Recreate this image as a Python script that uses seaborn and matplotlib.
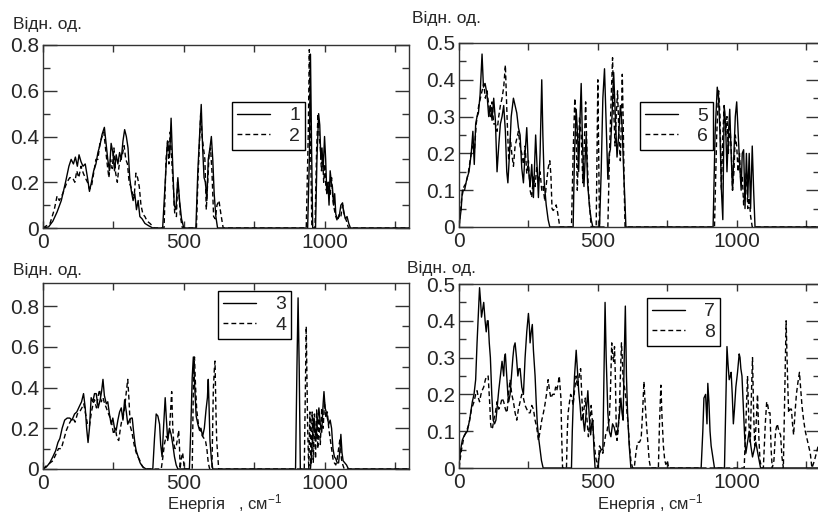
import pandas as pd
import seaborn as sns
import matplotlib.pyplot as plt
from matplotlib.lines import Line2D

# (energy, density) pairs, one list per curve
curve1 = [(0, 0), (20, 0.005), (35, 0.03), (50, 0.07), (65, 0.12), (80, 0.2), (92, 0.27), (100, 0.3), (108, 0.28),
          (115, 0.31), (122, 0.27), (128, 0.32), (135, 0.29), (142, 0.27), (150, 0.28), (158, 0.22), (165, 0.16),
          (172, 0.2), (180, 0.25), (188, 0.28), (195, 0.33), (202, 0.36), (210, 0.41), (218, 0.44), (224, 0.37),
          (230, 0.3), (236, 0.25), (242, 0.37), (248, 0.33), (254, 0.25), (260, 0.32), (266, 0.28), (272, 0.33),
          (278, 0.3), (284, 0.38), (290, 0.43), (296, 0.4), (302, 0.35), (308, 0.22), (314, 0.16), (320, 0.12),
          (326, 0.15), (332, 0.08), (338, 0.12), (344, 0.05), (352, 0.04), (362, 0.02), (375, 0.01), (390, 0),
          (425, 0), (435, 0.22), (442, 0.38), (450, 0.32), (455, 0.48), (460, 0.3), (466, 0.1), (472, 0.08),
          (479, 0.22), (485, 0.12), (492, 0.04), (500, 0),
          (543, 0), (550, 0.25), (556, 0.4), (562, 0.54), (567, 0.35), (572, 0.22), (577, 0.2), (582, 0.12),
          (587, 0.3), (593, 0.35), (598, 0.4), (603, 0.3), (608, 0.15), (614, 0.05), (620, 0),
          (940, 0), (946, 0.3), (950, 0.76), (954, 0.35), (958, 0), (968, 0), (973, 0.3), (979, 0.5), (983, 0.45),
          (987, 0.3), (991, 0.35), (995, 0.25), (1000, 0.4), (1004, 0.3), (1008, 0.15), (1012, 0.2), (1016, 0.1),
          (1020, 0.25), (1024, 0.2), (1028, 0.18), (1032, 0.1), (1036, 0.15), (1040, 0.06), (1046, 0.04),
          (1052, 0.05), (1058, 0.1), (1064, 0.11), (1068, 0.07), (1074, 0.04), (1080, 0.05), (1086, 0.02),
          (1092, 0), (1300, 0)]

curve2 = [(0, 0), (25, 0.02), (40, 0.08), (50, 0.14), (58, 0.12), (70, 0.15), (85, 0.2), (95, 0.22), (105, 0.22),
          (113, 0.2), (120, 0.25), (127, 0.22), (135, 0.27), (143, 0.24), (150, 0.22), (158, 0.2), (165, 0.17),
          (172, 0.18), (180, 0.24), (188, 0.3), (195, 0.3), (202, 0.37), (210, 0.4), (216, 0.42), (222, 0.35),
          (228, 0.28), (234, 0.22), (240, 0.3), (246, 0.26), (252, 0.35), (258, 0.24), (264, 0.2), (270, 0.27),
          (276, 0.3), (282, 0.32), (288, 0.36), (294, 0.3), (300, 0.28), (306, 0.2), (312, 0.18), (318, 0.15),
          (324, 0.14), (330, 0.24), (336, 0.22), (342, 0.18), (348, 0.1), (355, 0.06), (362, 0.05), (370, 0.03),
          (380, 0.02), (395, 0),
          (430, 0), (437, 0.3), (443, 0.38), (447, 0.28), (452, 0.42), (457, 0.3), (462, 0.2), (468, 0.06),
          (474, 0.05), (478, 0.2), (483, 0.15), (488, 0.05), (495, 0),
          (545, 0), (550, 0.2), (555, 0.35), (560, 0.5), (565, 0.4), (570, 0.35), (575, 0.3), (580, 0.08),
          (585, 0.2), (590, 0.32), (595, 0.35), (600, 0.25), (606, 0.05), (612, 0.04), (618, 0.1), (625, 0.12),
          (632, 0.06), (640, 0),
          (935, 0), (942, 0.4), (946, 0.78), (950, 0.4), (955, 0), (966, 0), (972, 0.35), (977, 0.5), (981, 0.4),
          (985, 0.35), (989, 0.25), (993, 0.32), (997, 0.2), (1001, 0.28), (1005, 0.17), (1010, 0.15), (1015, 0.2),
          (1020, 0.14), (1025, 0.22), (1030, 0.12), (1035, 0.08), (1040, 0.05), (1046, 0.03), (1052, 0.06),
          (1058, 0.05), (1064, 0.1), (1070, 0.06), (1078, 0.03), (1085, 0), (1300, 0)]

curve3 = [(0, 0), (12, 0.01), (24, 0.03), (35, 0.06), (45, 0.09), (53, 0.13), (60, 0.15), (68, 0.2), (77, 0.24),
          (86, 0.25), (95, 0.25), (103, 0.24), (112, 0.27), (120, 0.28), (130, 0.31), (137, 0.33), (144, 0.37),
          (150, 0.3), (155, 0.2), (160, 0.13), (165, 0.2), (171, 0.35), (177, 0.33), (183, 0.37), (189, 0.37),
          (196, 0.3), (203, 0.34), (208, 0.38), (213, 0.44), (218, 0.36), (225, 0.32), (230, 0.33), (236, 0.27),
          (242, 0.22), (248, 0.25), (254, 0.2), (260, 0.19), (266, 0.24), (272, 0.28), (278, 0.3), (284, 0.24),
          (290, 0.34), (296, 0.28), (301, 0.22), (307, 0.24), (313, 0.25), (317, 0.25), (322, 0.18), (327, 0.12),
          (331, 0.09), (338, 0.06), (345, 0.03), (355, 0.01), (366, 0),
          (390, 0), (396, 0.15), (402, 0.27), (408, 0.26), (414, 0.22), (418, 0.12), (423, 0.06), (428, 0.2),
          (434, 0.35), (438, 0.25), (443, 0.14), (449, 0.2), (455, 0.17), (461, 0.12), (467, 0.06), (473, 0.02),
          (479, 0),
          (520, 0), (525, 0.2), (530, 0.45), (534, 0.55), (539, 0.4), (544, 0.26), (550, 0.22), (556, 0.19),
          (561, 0.2), (567, 0.16), (573, 0.2), (579, 0.29), (584, 0.35), (587, 0.44), (590, 0.3), (593, 0.14),
          (598, 0.05), (603, 0),
          (897, 0), (902, 0.5), (906, 0.84), (910, 0.5), (914, 0),
          (950, 0), (956, 0.12), (962, 0.25), (966, 0.2), (970, 0.15), (975, 0.24), (980, 0.3), (985, 0.22),
          (990, 0.18), (995, 0.32), (998, 0.38), (1002, 0.3), (1006, 0.28), (1010, 0.25), (1015, 0.22),
          (1020, 0.24), (1025, 0.2), (1030, 0.1), (1035, 0.06), (1040, 0.05), (1045, 0.03), (1050, 0.03),
          (1055, 0.1), (1058, 0.17), (1062, 0.08), (1066, 0.04), (1072, 0.03), (1078, 0.02), (1085, 0), (1300, 0)]

curve4 = [(0, 0), (15, 0.02), (25, 0.03), (35, 0.04), (45, 0.07), (55, 0.1), (65, 0.1), (75, 0.15), (83, 0.19),
          (92, 0.22), (100, 0.24), (106, 0.25), (114, 0.23), (122, 0.27), (130, 0.28), (138, 0.3), (145, 0.32),
          (150, 0.28), (158, 0.22), (165, 0.21), (172, 0.28), (178, 0.32), (183, 0.34), (190, 0.3), (196, 0.36),
          (201, 0.39), (207, 0.33), (213, 0.35), (219, 0.32), (225, 0.3), (230, 0.28), (236, 0.26), (242, 0.24),
          (247, 0.2), (251, 0.17), (257, 0.2), (263, 0.15), (269, 0.14), (275, 0.2), (280, 0.24), (284, 0.25),
          (290, 0.3), (296, 0.38), (301, 0.44), (305, 0.35), (310, 0.21), (316, 0.18), (321, 0.14), (325, 0.11),
          (331, 0.08), (337, 0.06), (343, 0.045), (350, 0.02), (360, 0),
          (420, 0), (425, 0.05), (431, 0.12), (437, 0.16), (443, 0.15), (449, 0.19), (453, 0.28), (457, 0.38),
          (461, 0.2), (465, 0.12), (469, 0.1), (473, 0.11), (478, 0.15), (482, 0.19), (485, 0.1), (487, 0),
          (491, 0.05), (496, 0.08), (502, 0),
          (530, 0), (534, 0.4), (538, 0.55), (542, 0.4), (546, 0.29), (552, 0.22), (556, 0.2), (561, 0.18),
          (567, 0.16), (572, 0.15), (577, 0.14), (582, 0.1), (587, 0.03), (592, 0), (600, 0), (605, 0.39),
          (609, 0.5), (611, 0.53), (614, 0.3), (617, 0.14), (624, 0),
          (928, 0), (935, 0.7), (940, 0.2), (944, 0), (948, 0.28), (952, 0.02), (956, 0.28), (960, 0.03),
          (964, 0.27), (968, 0.05), (972, 0.29), (976, 0.1), (980, 0.25), (985, 0.12), (990, 0.3), (995, 0.2),
          (1000, 0.33), (1005, 0.25), (1010, 0.28), (1015, 0.2), (1020, 0.15), (1025, 0.1), (1030, 0.05),
          (1035, 0.03), (1040, 0.02), (1045, 0.05), (1050, 0.1), (1055, 0.15), (1060, 0.05), (1065, 0.02),
          (1070, 0), (1300, 0)]

curve5 = [(0, 0), (8, 0.05), (12, 0.1), (20, 0.1), (28, 0.13), (36, 0.15), (44, 0.2), (50, 0.26), (55, 0.17),
          (60, 0.28), (65, 0.3), (70, 0.31), (76, 0.36), (83, 0.47), (88, 0.38), (94, 0.39), (101, 0.36),
          (107, 0.3), (113, 0.33), (119, 0.29), (125, 0.35), (131, 0.29), (137, 0.15), (143, 0.22), (149, 0.28),
          (155, 0.3), (161, 0.33), (167, 0.26), (172, 0.15), (176, 0.12), (182, 0.2), (188, 0.3), (196, 0.35),
          (202, 0.33), (208, 0.31), (214, 0.27), (220, 0.25), (226, 0.16), (232, 0.12), (238, 0.2), (244, 0.27),
          (250, 0.16), (256, 0.11), (262, 0.17), (268, 0.08), (276, 0.25), (282, 0.15), (286, 0.08), (292, 0.2),
          (298, 0.4), (302, 0.25), (307, 0.12), (314, 0.06), (321, 0.02), (327, 0),
          (411, 0), (416, 0.2), (422, 0.32), (427, 0.25), (431, 0.15), (436, 0.3), (440, 0.39), (445, 0.22),
          (450, 0.11), (454, 0.18), (458, 0.25), (463, 0.12), (470, 0.055), (476, 0.02), (482, 0),
          (506, 0), (512, 0.15), (518, 0.35), (524, 0.43), (530, 0.28), (536, 0.13), (541, 0.2), (545, 0.21),
          (551, 0.3), (557, 0.42), (563, 0.3), (569, 0.19), (575, 0.25), (581, 0.33), (587, 0.28), (593, 0.15),
          (597, 0.08), (601, 0),
          (915, 0), (922, 0.25), (930, 0.38), (935, 0.35), (940, 0.25), (945, 0.1), (950, 0.02), (955, 0.33),
          (960, 0.28), (965, 0.15), (970, 0.25), (975, 0.32), (980, 0.2), (985, 0.1), (990, 0.2), (995, 0.3),
          (1000, 0.34), (1005, 0.26), (1010, 0.18), (1016, 0.1), (1020, 0.2), (1025, 0.21), (1030, 0.05),
          (1035, 0.2), (1040, 0.08), (1045, 0.2), (1050, 0.05), (1056, 0.22), (1061, 0.1), (1066, 0), (1300, 0)]

curve6 = [(0, 0), (10, 0.08), (18, 0.11), (26, 0.12), (34, 0.15), (42, 0.19), (48, 0.22), (55, 0.2), (62, 0.28),
          (71, 0.33), (80, 0.36), (89, 0.39), (95, 0.35), (101, 0.37), (107, 0.33), (113, 0.3), (119, 0.34),
          (125, 0.28), (131, 0.28), (137, 0.26), (143, 0.3), (149, 0.33), (155, 0.35), (161, 0.38), (167, 0.44),
          (173, 0.3), (179, 0.18), (185, 0.24), (190, 0.2), (196, 0.165), (202, 0.22), (208, 0.24), (214, 0.26),
          (220, 0.22), (226, 0.2), (232, 0.17), (238, 0.22), (244, 0.145), (250, 0.18), (256, 0.1), (262, 0.08),
          (268, 0.14), (274, 0.11), (280, 0.165), (286, 0.12), (292, 0.15), (298, 0.1), (303, 0.11), (309, 0.07),
          (315, 0.12), (321, 0.16), (327, 0.18), (331, 0.14), (335, 0.05), (339, 0.045), (345, 0.05), (350, 0.06),
          (355, 0.04), (363, 0),
          (405, 0), (411, 0.2), (417, 0.35), (422, 0.25), (426, 0.1), (430, 0.2), (434, 0.3), (440, 0.25),
          (446, 0.12), (451, 0.22), (456, 0.34), (461, 0.2), (466, 0.1), (471, 0.05), (476, 0),
          (494, 0), (497, 0.2), (500, 0.4), (503, 0.2), (506, 0),
          (536, 0), (542, 0.2), (548, 0.35), (553, 0.46), (558, 0.3), (562, 0.22), (566, 0.3), (571, 0.37),
          (576, 0.25), (581, 0.18), (585, 0.3), (588, 0.415), (591, 0.3), (595, 0.1), (598, 0),
          (920, 0), (928, 0.25), (935, 0.37), (940, 0.3), (945, 0.1), (950, 0.25), (955, 0.33), (960, 0.25),
          (965, 0.3), (970, 0.2), (975, 0.28), (980, 0.22), (985, 0.1), (990, 0.15), (995, 0.25), (1000, 0.22),
          (1005, 0.15), (1010, 0.2), (1015, 0.12), (1020, 0.14), (1025, 0.06), (1030, 0.1), (1035, 0.15),
          (1040, 0.05), (1045, 0.08), (1050, 0.03), (1056, 0), (1300, 0)]

curve7 = [(0, 0.01), (6, 0.05), (12, 0.076), (20, 0.09), (30, 0.1), (38, 0.13), (48, 0.18), (54, 0.2), (60, 0.24),
          (65, 0.34), (70, 0.42), (74, 0.49), (78, 0.45), (81, 0.41), (85, 0.43), (89, 0.45), (94, 0.4), (98, 0.37),
          (102, 0.4), (105, 0.4), (109, 0.34), (113, 0.3), (118, 0.2), (123, 0.13), (128, 0.12), (133, 0.13),
          (138, 0.17), (143, 0.21), (149, 0.25), (155, 0.29), (158, 0.27), (161, 0.25), (164, 0.3), (167, 0.31),
          (172, 0.25), (176, 0.2), (179, 0.18), (184, 0.2), (188, 0.24), (194, 0.3), (198, 0.33), (202, 0.34),
          (207, 0.3), (212, 0.25), (216, 0.27), (220, 0.27), (226, 0.22), (232, 0.2), (238, 0.3), (244, 0.37),
          (250, 0.42), (253, 0.39), (256, 0.34), (260, 0.37), (264, 0.39), (268, 0.32), (274, 0.25), (278, 0.18),
          (282, 0.12), (287, 0.08), (292, 0.05), (297, 0.02), (303, 0),
          (405, 0), (408, 0.1), (411, 0.17), (416, 0.25), (422, 0.32), (426, 0.27), (431, 0.21), (436, 0.17),
          (440, 0.13), (446, 0.14), (452, 0.1), (458, 0.15), (464, 0.21), (469, 0.14), (474, 0.09), (478, 0.12),
          (482, 0.13), (486, 0.05), (490, 0),
          (500, 0), (506, 0.04), (512, 0.05), (518, 0.05), (522, 0.25), (526, 0.45), (530, 0.3), (536, 0.15),
          (541, 0.1), (547, 0.085), (553, 0.12), (559, 0.11), (565, 0.09), (571, 0.1), (577, 0.14), (583, 0.19),
          (587, 0.15), (591, 0.13), (595, 0.3), (599, 0.44), (603, 0.25), (607, 0.15), (613, 0.06), (619, 0),
          (872, 0), (878, 0.1), (882, 0.19), (888, 0.2), (891, 0.15), (893, 0.12), (896, 0.23), (900, 0.18),
          (904, 0.1), (908, 0.06), (914, 0.03), (920, 0),
          (956, 0), (960, 0.15), (965, 0.33), (969, 0.28), (973, 0.24), (977, 0.25), (980, 0.26), (984, 0.2),
          (988, 0.12), (992, 0.16), (997, 0.22), (1003, 0.26), (1009, 0.31), (1012, 0.3), (1015, 0.27),
          (1019, 0.25), (1022, 0.2), (1025, 0.15), (1029, 0.08), (1033, 0.04), (1039, 0.07), (1045, 0.1),
          (1051, 0.06), (1057, 0.03), (1063, 0.05), (1069, 0.07), (1076, 0.04), (1086, 0), (1300, 0)]

curve8 = [(0, 0), (9, 0.05), (18, 0.085), (27, 0.1), (36, 0.12), (45, 0.16), (54, 0.18), (60, 0.2), (65, 0.21),
          (70, 0.19), (74, 0.18), (79, 0.2), (83, 0.21), (89, 0.22), (95, 0.24), (100, 0.25), (105, 0.25),
          (108, 0.21), (111, 0.17), (114, 0.12), (117, 0.105), (121, 0.11), (125, 0.13), (131, 0.15), (137, 0.18),
          (143, 0.16), (149, 0.17), (155, 0.19), (161, 0.18), (167, 0.16), (173, 0.15), (178, 0.2), (184, 0.24),
          (190, 0.2), (196, 0.18), (202, 0.15), (208, 0.13), (214, 0.16), (220, 0.18), (226, 0.2), (232, 0.19),
          (238, 0.17), (244, 0.16), (250, 0.15), (256, 0.15), (262, 0.17), (268, 0.16), (274, 0.13), (280, 0.11),
          (286, 0.075), (292, 0.1), (298, 0.13), (304, 0.15), (309, 0.17), (315, 0.2), (321, 0.24), (326, 0.21),
          (331, 0.19), (337, 0.2), (343, 0.2), (348, 0.22), (352, 0.21), (357, 0.23), (361, 0.25), (364, 0.22),
          (367, 0.19), (370, 0.08), (373, 0),
          (387, 0), (390, 0.1), (393, 0.15), (398, 0.18), (402, 0.2), (407, 0.19), (411, 0.17), (416, 0.21),
          (422, 0.25), (426, 0.22), (431, 0.24), (435, 0.26), (438, 0.27), (442, 0.2), (446, 0.13), (450, 0.16),
          (455, 0.19), (460, 0.14), (466, 0.085), (471, 0.12), (476, 0.17), (481, 0.12), (486, 0.075), (492, 0.03),
          (500, 0), (506, 0.06), (512, 0.05), (518, 0.04), (524, 0.07), (528, 0.09), (533, 0.1), (537, 0.12),
          (541, 0.13), (545, 0.2), (550, 0.34), (554, 0.3), (557, 0.29), (560, 0.33), (563, 0.25), (566, 0.12),
          (569, 0.075), (573, 0.1), (577, 0.15), (581, 0.25), (585, 0.34), (588, 0.3), (591, 0.24), (596, 0.22),
          (601, 0.19), (605, 0.15), (609, 0.12), (614, 0.06), (619, 0.02), (625, 0), (631, 0), (637, 0.04),
          (643, 0.07), (650, 0.07), (656, 0.08), (661, 0.15), (666, 0.235), (670, 0.18), (675, 0.12), (680, 0.07),
          (685, 0.02), (690, 0),
          (718, 0), (722, 0.12), (727, 0.225), (731, 0.14), (736, 0.06), (741, 0.02), (745, 0.01), (750, 0.02),
          (755, 0),
          (1027, 0), (1033, 0.12), (1039, 0.25), (1044, 0.12), (1049, 0.07), (1053, 0.2), (1057, 0.3), (1061, 0.15),
          (1065, 0.06), (1070, 0.12), (1075, 0.2), (1080, 0.08), (1084, 0.02), (1090, 0), (1096, 0), (1103, 0.12),
          (1108, 0.18), (1112, 0.17), (1116, 0.15), (1120, 0.15), (1124, 0.05), (1128, 0), (1134, 0.02),
          (1140, 0.1), (1146, 0.12), (1152, 0.1), (1158, 0.09), (1163, 0.03), (1168, 0), (1173, 0.2), (1178, 0.4),
          (1183, 0.25), (1187, 0.15), (1192, 0.16), (1197, 0.16), (1201, 0.12), (1205, 0.09), (1210, 0.15),
          (1215, 0.2), (1220, 0.23), (1226, 0.26), (1230, 0.22), (1235, 0.17), (1241, 0.13), (1247, 0.1),
          (1253, 0.08), (1259, 0.06), (1265, 0.04), (1271, 0), (1280, 0.02), (1290, 0.05), (1300, 0.08)]

x_ticks = [0, 250, 500, 750, 1000, 1250]
x_labels = ['0', '', '500', '', '1000', '']
y_label_text = 'Відн. од.'

sns.set_theme(style='ticks')
plt.rcParams['font.family'] = ['Liberation Sans', 'DejaVu Sans']
plt.rcParams['mathtext.fontset'] = 'custom'
plt.rcParams['mathtext.rm'] = 'Liberation Sans'
plt.rcParams['mathtext.it'] = 'Liberation Sans'

W, H = 818, 513
fig = plt.figure(figsize=(W / 100, H / 100), dpi=100)


def px_axes(left, top, right, bottom):
    return fig.add_axes([left / W, 1 - bottom / H, (right - left) / W, (bottom - top) / H])


dash = (3.5, 2.2)


def draw_panel(ax, solid, dashed, names, ymax, yt, ylab, ymin_ticks, leg_xy):
    rows = [(e, d, names[0]) for e, d in solid] + [(e, d, names[1]) for e, d in dashed]
    df = pd.DataFrame(rows, columns=['energy', 'dos', 'curve'])
    sns.lineplot(data=df, x='energy', y='dos', style='curve',
                 dashes={names[0]: '', names[1]: dash}, color='black', lw=1.0,
                 sort=False, estimator=None, legend=False, ax=ax)
    ax.set_xlim(0, 1300)
    ax.set_ylim(0, ymax)
    ax.set_xticks(x_ticks)
    ax.set_xticklabels(x_labels)
    ax.set_yticks(yt)
    ax.set_yticklabels(ylab)
    ax.set_yticks(ymin_ticks, minor=True)
    ax.set_xlabel('')
    ax.set_ylabel('')
    ax.tick_params(which='both', direction='in', top=True, right=True, labelsize=15,
                   width=1, color='#333333')
    ax.tick_params(axis='x', which='major', length=5, pad=3.5)
    ax.tick_params(axis='y', which='major', length=10, pad=3)
    ax.tick_params(axis='y', which='minor', length=5)
    for s in ax.spines.values():
        s.set_linewidth(1.0)
        s.set_color('#333333')
    handles = [Line2D([], [], color='black', lw=1.0),
               Line2D([], [], color='black', lw=1.0, dashes=dash)]
    leg = ax.legend(handles, names, loc='upper left', bbox_to_anchor=leg_xy, frameon=True,
                    fancybox=False, edgecolor='black', framealpha=1, fontsize=14,
                    handlelength=1.7, handletextpad=1.0, borderpad=0.25, labelspacing=0.15,
                    borderaxespad=0)
    leg.get_frame().set_linewidth(1.0)


ax1 = px_axes(43, 45, 409, 228)
ax2 = px_axes(459, 43, 820, 227)
ax3 = px_axes(43, 283, 409, 469)
ax4 = px_axes(459, 284, 820, 468)

big_t = [0, 0.2, 0.4, 0.6, 0.8]
big_l = ['0', '0.2', '0.4', '0.6', '0.8']
small_t = [0, 0.1, 0.2, 0.3, 0.4, 0.5]
small_l = ['0', '0.1', '0.2', '0.3', '0.4', '0.5']

draw_panel(ax1, curve1, curve2, ['1', '2'], 0.8, big_t, big_l, [0.1, 0.3, 0.5, 0.7], (0.516, 0.689))
draw_panel(ax2, curve5, curve6, ['5', '6'], 0.5, small_t, small_l,
           [0.05, 0.15, 0.25, 0.35, 0.45], (0.501, 0.679))
draw_panel(ax3, curve3, curve4, ['3', '4'], 0.913, big_t, big_l, [0.1, 0.3, 0.5, 0.7], (0.478, 0.957))
draw_panel(ax4, curve7, curve8, ['7', '8'], 0.5, small_t, small_l,
           [0.05, 0.15, 0.25, 0.35, 0.45], (0.521, 0.924))

fig.text(13 / W, 1 - 24 / H, y_label_text, fontsize=12.5, va='center', ha='left')
fig.text(412 / W, 1 - 18 / H, y_label_text, fontsize=12.5, va='center', ha='left')
fig.text(13 / W, 1 - 270 / H, y_label_text, fontsize=12.5, va='center', ha='left')
fig.text(407 / W, 1 - 268 / H, y_label_text, fontsize=12.5, va='center', ha='left')

fig.text(167 / W, 1 - 509 / H, 'Енергія   , см$^{-1}$', fontsize=12, va='baseline', ha='left')
fig.text(597 / W, 1 - 509 / H, 'Енергія , см$^{-1}$', fontsize=12, va='baseline', ha='left')

fig.savefig('out.png', dpi=100)
